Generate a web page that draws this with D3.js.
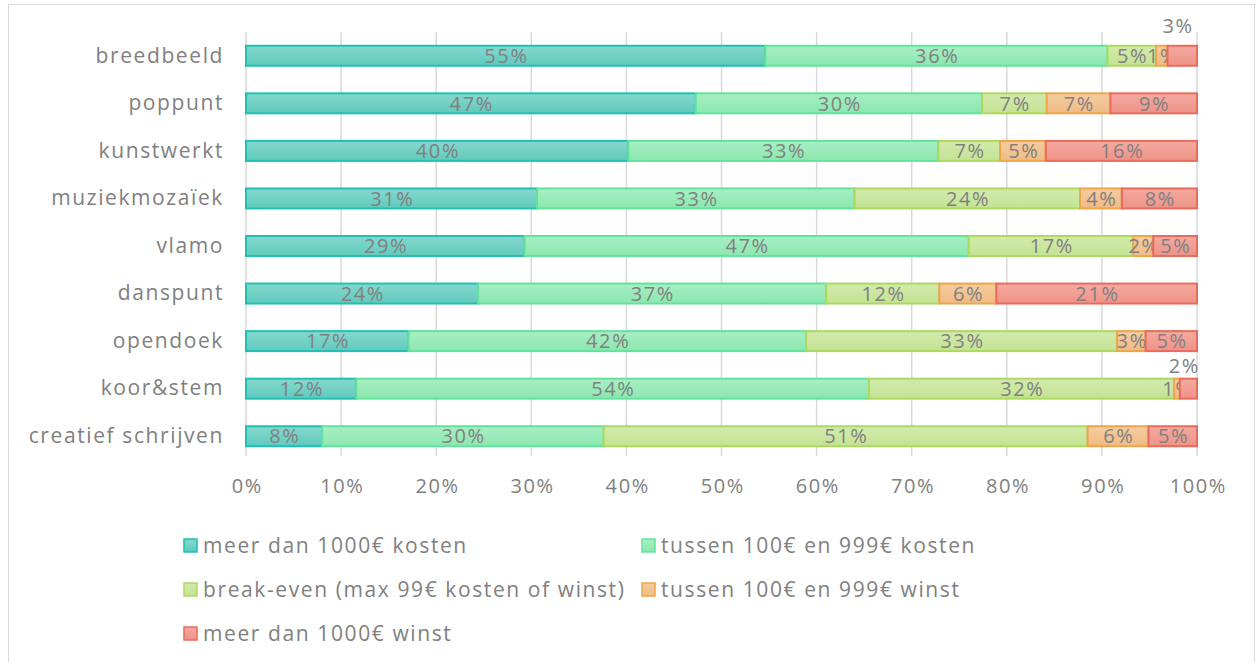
<!DOCTYPE html>
<html>
<head>
<meta charset="utf-8">
<script src="https://cdn.jsdelivr.net/npm/d3@7"></script>
<style>
  body { margin: 0; background: #fff; }
  svg text { font-family: "Century Gothic", "Open Sans", sans-serif; fill: #808080; letter-spacing: 1.6px; }
</style>
</head>
<body>
<div id="chart"></div>
<script>
// categories (top to bottom)
var categories = ["breedbeeld", "poppunt", "kunstwerkt", "muziekmozaïek", "vlamo",
	"danspunt", "opendoek", "koor&stem", "creatief schrijven"];

var seriesNames = ["meer dan 1000€ kosten", "tussen 100€ en 999€ kosten",
	"break-even (max 99€ kosten of winst)", "tussen 100€ en 999€ winst", "meer dan 1000€ winst"];

// share in % per series, same order as categories
var kostenGroot = [54.6, 47.3, 40.2, 30.6, 29.3, 24.4, 17.1, 11.6, 8.0];
var kostenKlein = [36.0, 30.1, 32.6, 33.4, 46.7, 36.6, 41.8, 53.9, 29.6];
var breakEven   = [5.1, 6.8, 6.5, 23.7, 17.3, 11.9, 32.7, 32.1, 50.9];
var winstKlein  = [1.2, 6.7, 4.8, 4.4, 2.1, 6.0, 3.0, 0.6, 6.4];
var winstGroot  = [3.1, 9.1, 15.9, 7.9, 4.6, 21.1, 5.4, 1.8, 5.1];

var xTicks = [0, 10, 20, 30, 40, 50, 60, 70, 80, 90, 100];

var fills   = ["#86d8ce", "#a8efc4", "#d2eaad", "#f5cca0", "#f4aaa1"];
var fillsDk = ["#60cabd", "#8be7ae", "#c4e393", "#f0bb84", "#ef9287"];
var strokes = ["#1fc1b3", "#62e39d", "#add95f", "#eda64a", "#ea6b5c"];

// labels of tiny end segments that sit above their bar (px lifted)
var liftedLabels = {"breedbeeld": 30, "koor&stem": 23};

var W = 1257, H = 662;
var margin = {top: 32, left: 246, right: 60};

var svg = d3.select("#chart").append("svg")
	.attr("width", W)
	.attr("height", H);

// chart border
svg.append("rect")
	.attr("x", 8.5).attr("y", 4.5)
	.attr("width", 1246).attr("height", 680)
	.attr("fill", "none")
	.attr("stroke", "#d9d9d9");

var defs = svg.append("defs");
fills.forEach(function (f, i) {
	var g = defs.append("linearGradient")
		.attr("id", "grad" + i)
		.attr("x1", 0).attr("y1", 0).attr("x2", 0).attr("y2", 1);
	g.append("stop").attr("offset", "0%").attr("stop-color", f);
	g.append("stop").attr("offset", "100%").attr("stop-color", fillsDk[i]);
});

var x = d3.scaleLinear()
	.domain([0, 100])
	.range([margin.left, 1197]);

var y = d3.scaleBand()
	.domain(categories)
	.range([margin.top, 460])
	.paddingInner(0.58)
	.paddingOuter(0.29);

// gridlines
svg.append("g")
	.selectAll("line")
	.data(xTicks)
	.enter()
	.append("line")
	.attr("x1", function (d) { return x(d); })
	.attr("x2", function (d) { return x(d); })
	.attr("y1", margin.top)
	.attr("y2", 456)
	.attr("stroke", "#d9d9d9")
	.attr("stroke-width", 1.5);

// x axis labels
var xAxis = d3.axisBottom(x)
	.tickValues(xTicks)
	.tickSize(0)
	.tickPadding(0)
	.tickFormat(function (d) { return d + "%"; });

var gx = svg.append("g")
	.attr("transform", "translate(0,479)")
	.call(xAxis);
gx.select(".domain").remove();
gx.selectAll("text")
	.style("font-size", "20px")
	.attr("dx", "0.8")
	.attr("dy", "0.72em");

// y axis labels
var yAxis = d3.axisLeft(y).tickSize(0).tickPadding(22);
var gy = svg.append("g")
	.attr("transform", "translate(" + margin.left + ",0)")
	.call(yAxis);
gy.select(".domain").remove();
gy.selectAll("text").style("font-size", "21px");

// stack data
var seriesVals = [kostenGroot, kostenKlein, breakEven, winstKlein, winstGroot];
var rows = categories.map(function (c, i) {
	var r = {cat: c};
	seriesVals.forEach(function (s, k) { r["s" + k] = s[i]; });
	return r;
});
var stack = d3.stack().keys(["s0", "s1", "s2", "s3", "s4"]);
var layers = stack(rows);

var groups = svg.selectAll(".layer")
	.data(layers)
	.enter()
	.append("g")
	.attr("class", "layer");

groups.selectAll("rect")
	.data(function (d) { return d; })
	.enter()
	.append("rect")
	.attr("x", function (d) { return x(d[0]); })
	.attr("y", function (d) { return y(d.data.cat); })
	.attr("width", function (d) { return x(d[1]) - x(d[0]); })
	.attr("height", y.bandwidth())
	.attr("fill", function () { return "url(#grad" + d3.select(this.parentNode).datum().index + ")"; })
	.attr("stroke", function () { return strokes[d3.select(this.parentNode).datum().index]; })
	.attr("stroke-width", 2);

// value labels
groups.each(function (layer) {
	var k = layer.index;
	function lifted(d) { return k === 4 && liftedLabels[d.data.cat] !== undefined; }
	d3.select(this).selectAll("text")
		.data(layer)
		.enter()
		.append("text")
		.attr("text-anchor", "middle")
		.style("font-size", "20px")
		.attr("x", function (d) {
			var cx = (x(d[0]) + x(d[1])) / 2 + 0.8;
			return lifted(d) ? cx - 5 : cx;
		})
		.attr("y", function (d) {
			var cy = y(d.data.cat) + y.bandwidth() / 2;
			return lifted(d) ? cy - liftedLabels[d.data.cat] : cy;
		})
		.attr("dy", "0.36em")
		.text(function (d) { return Math.round(d[1] - d[0]) + "%"; });
});

// legend
var legendPos = [[183, 545], [641, 545], [183, 589], [641, 589], [183, 633]];
var legend = svg.selectAll(".legend")
	.data(seriesNames)
	.enter()
	.append("g")
	.attr("class", "legend")
	.attr("transform", function (d, i) { return "translate(" + legendPos[i][0] + "," + legendPos[i][1] + ")"; });

legend.append("rect")
	.attr("x", 1).attr("y", -6)
	.attr("width", 13).attr("height", 13)
	.attr("fill", function (d, i) { return "url(#grad" + i + ")"; })
	.attr("stroke", function (d, i) { return strokes[i]; })
	.attr("stroke-width", 1.5);

legend.append("text")
	.attr("x", 20)
	.attr("dy", "0.36em")
	.style("font-size", "21px")
	.text(function (d) { return d; });
</script>
</body>
</html>
